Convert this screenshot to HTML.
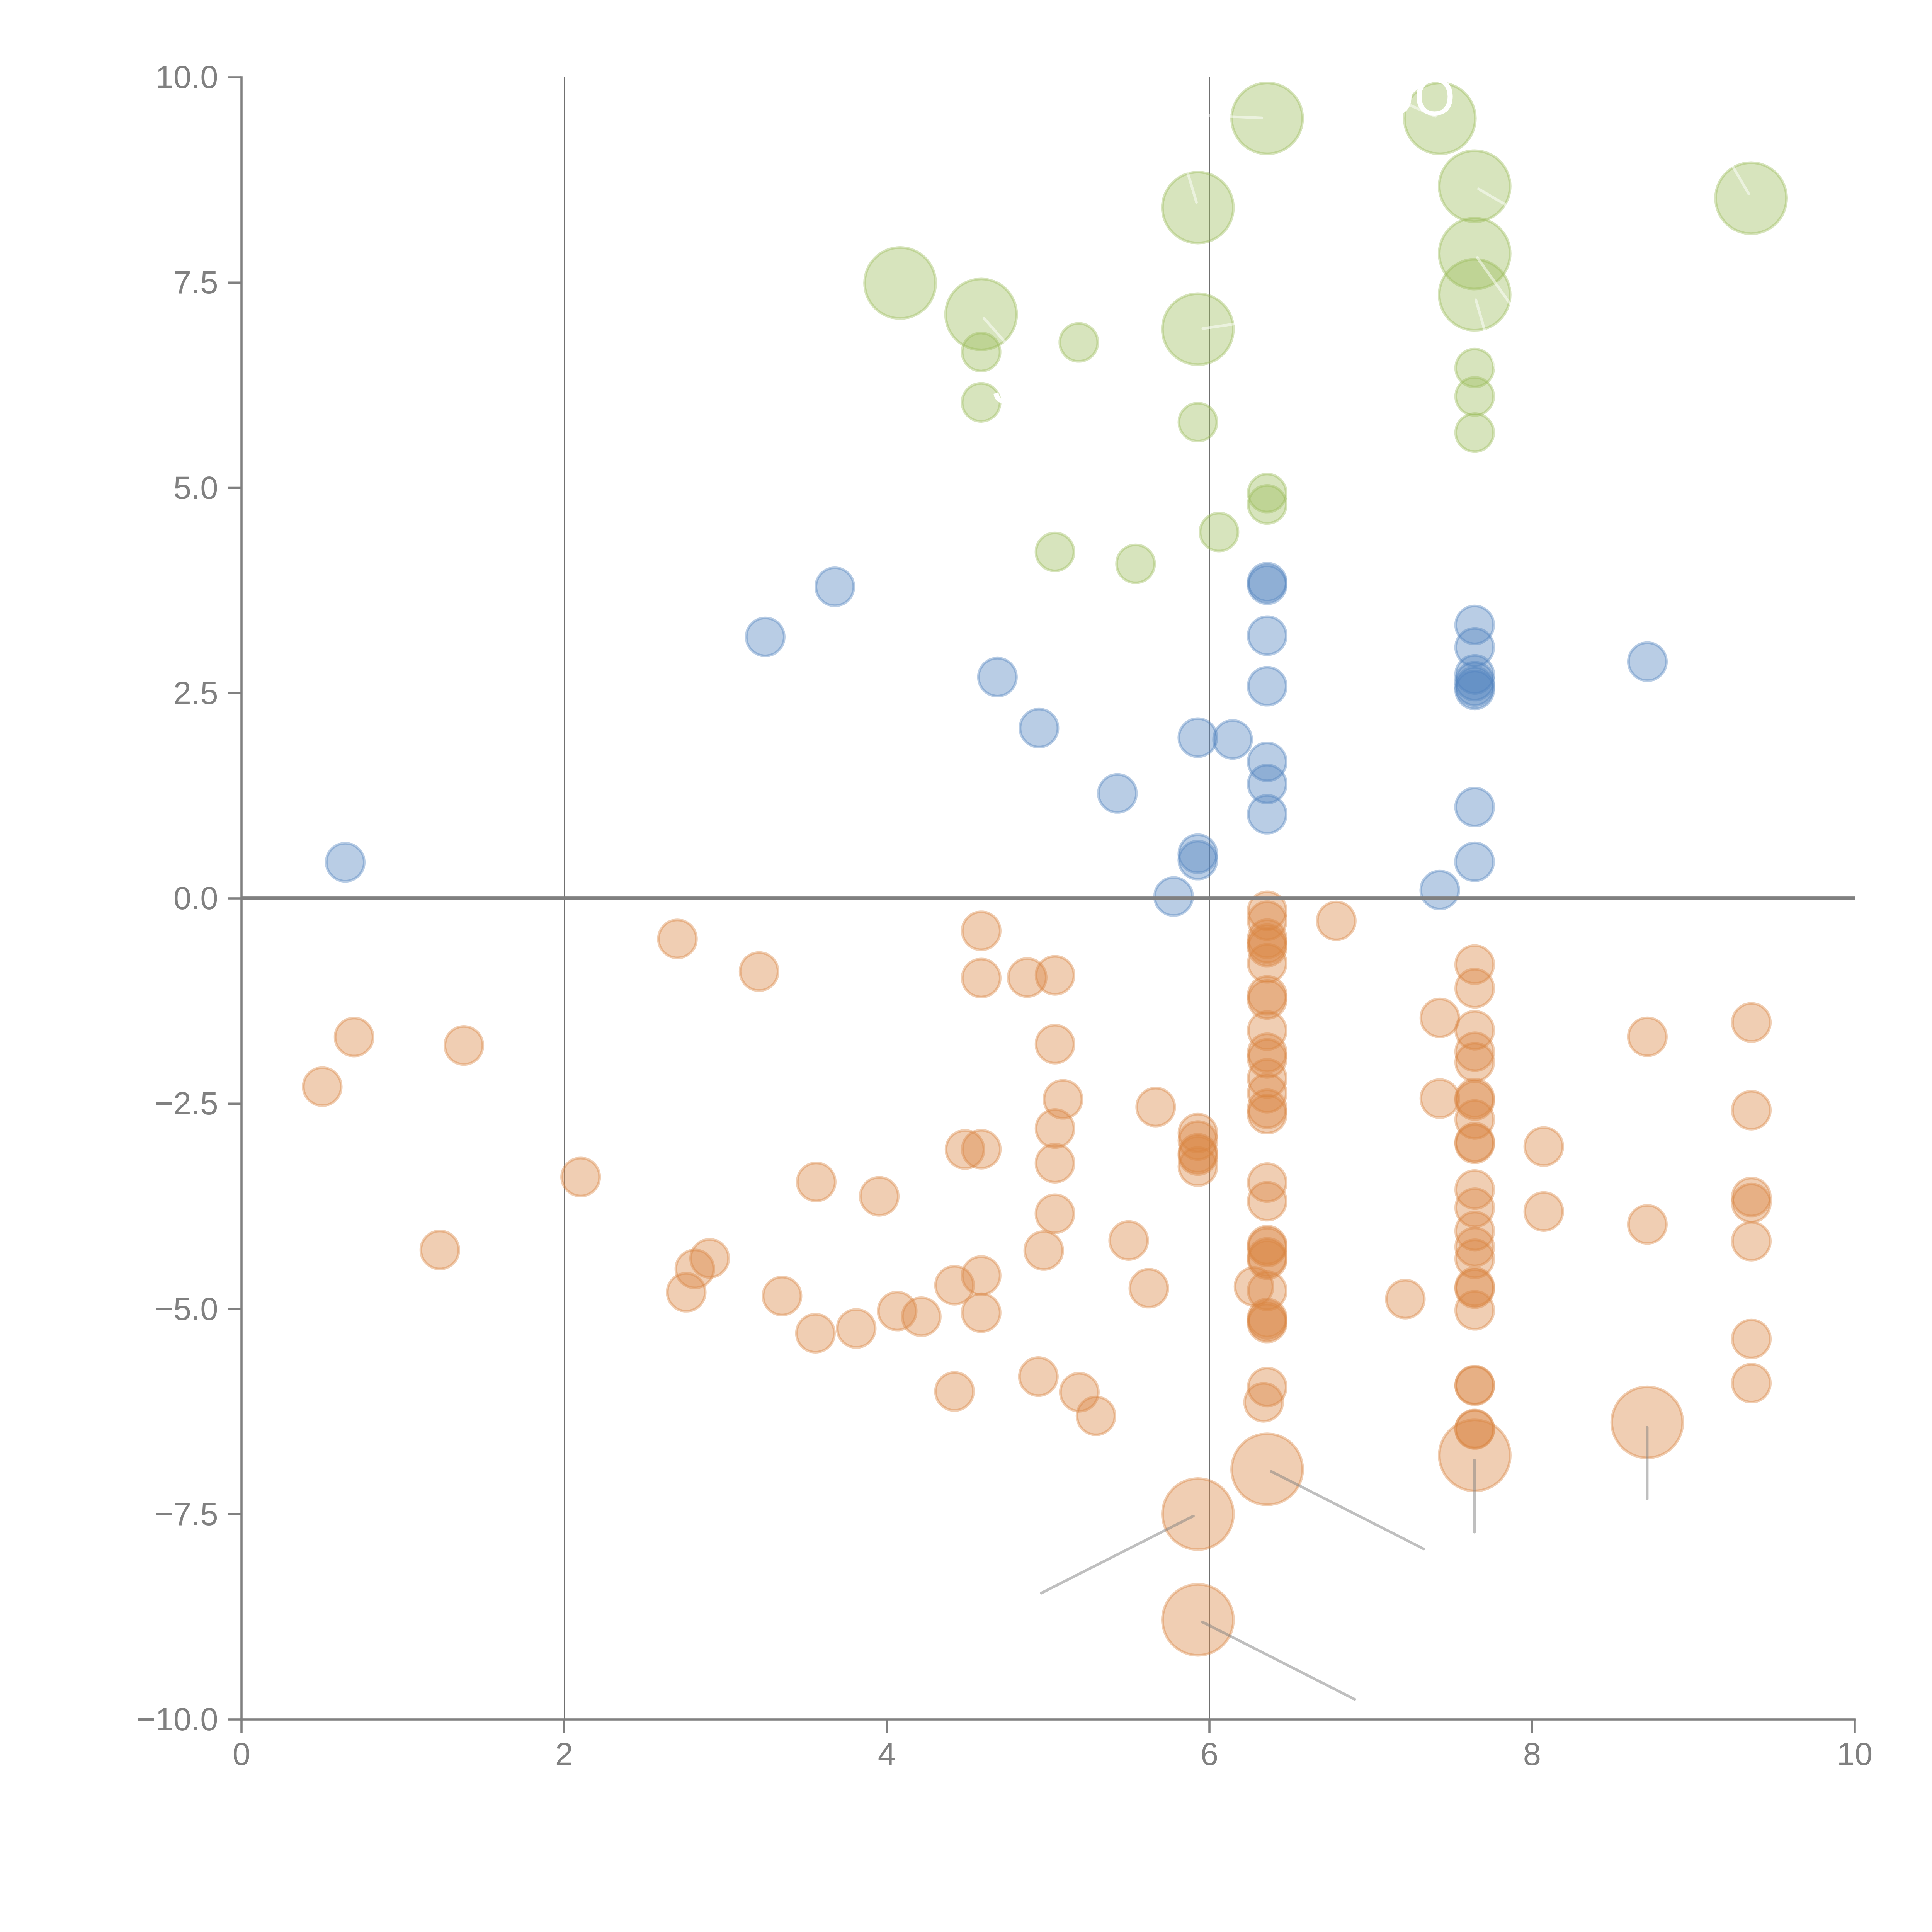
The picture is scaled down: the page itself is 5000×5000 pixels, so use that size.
<!DOCTYPE html>
<html lang="en"><head><meta charset="utf-8"><title>Scatter chart</title>
<style>html,body{margin:0;padding:0;background:#fff}svg{display:block}text{font-family:"Liberation Sans",sans-serif}.tk{font-size:83.33px;fill:#808080}.g circle{fill:#9BBB59;stroke:#9BBB59}.b circle{fill:#4F81BD;stroke:#4F81BD}.o circle{fill:#D98540;stroke:#D98540}circle{fill-opacity:0.4;stroke-opacity:0.4;stroke-width:6.944}.wl line{stroke:#fff;stroke-opacity:.5;stroke-width:6.944;stroke-linecap:round}.gl line{stroke:#808080;stroke-opacity:.5;stroke-width:6.944;stroke-linecap:round}.wt{fill:#fff}</style></head><body>
<svg width="5000" height="5000" viewBox="0 0 5000 5000">
<rect width="5000" height="5000" fill="#fff"/>
<rect x="1460" y="200" width="1" height="4250" fill="#707070"/>
<rect x="2295" y="200" width="1" height="4250" fill="#707070"/>
<rect x="3130" y="200" width="1" height="4250" fill="#707070"/>
<rect x="3965" y="200" width="1" height="4250" fill="#707070"/>
<g class="o"><circle cx="916.3" cy="2683.9" r="49.1"/><circle cx="1200.5" cy="2705.5" r="49.1"/><circle cx="834" cy="2812.2" r="49.1"/><circle cx="1502.7" cy="3046.1" r="49.1"/><circle cx="1138.3" cy="3234.9" r="49.1"/><circle cx="1753.2" cy="2429.9" r="49.1"/><circle cx="1964.4" cy="2514.3" r="49.1"/><circle cx="2539.4" cy="2408.9" r="49.1"/><circle cx="2539.4" cy="2531.1" r="49.1"/><circle cx="2658.4" cy="2529.8" r="49.1"/><circle cx="2730.3" cy="2524.1" r="49.1"/><circle cx="2730.3" cy="2702.2" r="49.1"/><circle cx="2751" cy="2845" r="49.1"/><circle cx="2730.3" cy="2920.6" r="49.1"/><circle cx="2730.2" cy="3010.4" r="49.1"/><circle cx="2730.1" cy="3141" r="49.1"/><circle cx="2701.2" cy="3236.3" r="49.1"/><circle cx="2990.9" cy="2865.1" r="49.1"/><circle cx="2497.4" cy="2974.8" r="49.1"/><circle cx="2539.6" cy="2974.2" r="49.1"/><circle cx="2112.4" cy="3058.8" r="49.1"/><circle cx="2275.5" cy="3096.1" r="49.1"/><circle cx="1836.5" cy="3256.6" r="49.1"/><circle cx="1798.2" cy="3283.9" r="49.1"/><circle cx="1776" cy="3344.3" r="49.1"/><circle cx="2023.9" cy="3354.1" r="49.1"/><circle cx="2110.4" cy="3450.4" r="49.1"/><circle cx="2215.9" cy="3438" r="49.1"/><circle cx="2322" cy="3393" r="49.1"/><circle cx="2384.3" cy="3407.5" r="49.1"/><circle cx="2470.3" cy="3326.2" r="49.1"/><circle cx="2539.3" cy="3301.1" r="49.1"/><circle cx="2539.3" cy="3397.2" r="49.1"/><circle cx="2470.2" cy="3601" r="49.1"/><circle cx="2687.3" cy="3562.6" r="49.1"/><circle cx="2793.4" cy="3603.1" r="49.1"/><circle cx="2836.3" cy="3664.2" r="49.1"/><circle cx="2921" cy="3210.4" r="49.1"/><circle cx="2973.1" cy="3333.8" r="49.1"/><circle cx="3245.3" cy="3329.5" r="49.1"/><circle cx="3458.3" cy="2383.2" r="49.1"/><circle cx="3637" cy="3362.1" r="49.1"/><circle cx="3270.3" cy="3629.1" r="49.1"/><circle cx="3100.1" cy="2932.3" r="49.1"/><circle cx="3100.1" cy="2951.7" r="49.1"/><circle cx="3100.1" cy="2984.8" r="49.1"/><circle cx="3100.1" cy="2990.5" r="49.1"/><circle cx="3100.1" cy="3019" r="49.1"/><circle cx="3279.5" cy="2357" r="49.1"/><circle cx="3279.5" cy="2382.9" r="49.1"/><circle cx="3279.5" cy="2429.3" r="49.1"/><circle cx="3279.5" cy="2442.3" r="49.1"/><circle cx="3279.5" cy="2451" r="49.1"/><circle cx="3279.5" cy="2493" r="49.1"/><circle cx="3279.5" cy="2576" r="49.1"/><circle cx="3279.5" cy="2586.6" r="49.1"/><circle cx="3279.5" cy="2667" r="49.1"/><circle cx="3279.5" cy="2724.6" r="49.1"/><circle cx="3279.5" cy="2739.1" r="49.1"/><circle cx="3279.5" cy="2790.8" r="49.1"/><circle cx="3279.5" cy="2829.1" r="49.1"/><circle cx="3279.5" cy="2869.5" r="49.1"/><circle cx="3279.5" cy="2883.5" r="49.1"/><circle cx="3279.5" cy="3060.5" r="49.1"/><circle cx="3279.5" cy="3108.8" r="49.1"/><circle cx="3279.5" cy="3222.2" r="49.1"/><circle cx="3279.5" cy="3227.3" r="49.1"/><circle cx="3279.5" cy="3254" r="49.1"/><circle cx="3279.5" cy="3260" r="49.1"/><circle cx="3279.5" cy="3340.5" r="49.1"/><circle cx="3279.5" cy="3411" r="49.1"/><circle cx="3279.5" cy="3418" r="49.1"/><circle cx="3279.5" cy="3424" r="49.1"/><circle cx="3279.5" cy="3589.7" r="49.1"/><circle cx="3816.5" cy="2496.2" r="49.1"/><circle cx="3816.5" cy="2557.5" r="49.1"/><circle cx="3816.5" cy="2666.2" r="49.1"/><circle cx="3816.5" cy="2721.9" r="49.1"/><circle cx="3816.5" cy="2748.8" r="49.1"/><circle cx="3816.5" cy="2842" r="49.1"/><circle cx="3816.5" cy="2848.2" r="49.1"/><circle cx="3816.5" cy="2897.2" r="49.1"/><circle cx="3816.5" cy="2956.1" r="49.1"/><circle cx="3816.5" cy="2960" r="49.1"/><circle cx="3816.5" cy="3078.5" r="49.1"/><circle cx="3816.5" cy="3125.6" r="49.1"/><circle cx="3816.5" cy="3185.9" r="49.1"/><circle cx="3816.5" cy="3227" r="49.1"/><circle cx="3816.5" cy="3257.6" r="49.1"/><circle cx="3816.5" cy="3330.5" r="49.1"/><circle cx="3816.5" cy="3334.9" r="49.1"/><circle cx="3816.5" cy="3391" r="49.1"/><circle cx="3816.5" cy="3584.6" r="49.1"/><circle cx="3816.5" cy="3586" r="49.1"/><circle cx="3816.5" cy="3698" r="49.1"/><circle cx="3816.5" cy="3699.5" r="49.1"/><circle cx="3726.3" cy="2634.4" r="49.1"/><circle cx="3726.3" cy="2843" r="49.1"/><circle cx="3995.2" cy="2967.2" r="49.1"/><circle cx="3995.2" cy="3135.4" r="49.1"/><circle cx="4263.4" cy="2683.2" r="49.1"/><circle cx="4263.4" cy="3168.7" r="49.1"/><circle cx="4532.5" cy="2646" r="49.1"/><circle cx="4532.5" cy="2873.2" r="49.1"/><circle cx="4532.5" cy="3097.8" r="49.1"/><circle cx="4532.5" cy="3113.4" r="49.1"/><circle cx="4532.5" cy="3212.2" r="49.1"/><circle cx="4532.5" cy="3465.2" r="49.1"/><circle cx="4532.5" cy="3579.5" r="49.1"/><circle cx="3279.4" cy="3802.5" r="91.85"/><circle cx="3100.3" cy="3918.3" r="91.85"/><circle cx="3100.3" cy="4192.1" r="91.85"/><circle cx="3816.6" cy="3766.5" r="91.85"/><circle cx="4263" cy="3681" r="91.85"/></g>
<g class="b"><circle cx="893.5" cy="2231.5" r="49.1"/><circle cx="2160.6" cy="1518.5" r="49.1"/><circle cx="1980.4" cy="1648.3" r="49.1"/><circle cx="2581.4" cy="1752.3" r="49.1"/><circle cx="3279.5" cy="1506.6" r="49.1"/><circle cx="3279.5" cy="1513.2" r="49.1"/><circle cx="3279.5" cy="1645" r="49.1"/><circle cx="3279.5" cy="1776" r="49.1"/><circle cx="2688.9" cy="1884.2" r="49.1"/><circle cx="3099.9" cy="1909" r="49.1"/><circle cx="3190" cy="1913.7" r="49.1"/><circle cx="3279.5" cy="1971.6" r="49.1"/><circle cx="3279.5" cy="2029.1" r="49.1"/><circle cx="3279.5" cy="2107.3" r="49.1"/><circle cx="2891.8" cy="2053.3" r="49.1"/><circle cx="3816.4" cy="1617.3" r="49.1"/><circle cx="3816.4" cy="1675.3" r="49.1"/><circle cx="3816.4" cy="1745.4" r="49.1"/><circle cx="3816.4" cy="1762.8" r="49.1"/><circle cx="3816.4" cy="1776.5" r="49.1"/><circle cx="3816.4" cy="1785.6" r="49.1"/><circle cx="4263.5" cy="1712.3" r="49.1"/><circle cx="3816.3" cy="2088.5" r="49.1"/><circle cx="3816.1" cy="2230.4" r="49.1"/><circle cx="3726.1" cy="2303.4" r="49.1"/><circle cx="3099.9" cy="2209.4" r="49.1"/><circle cx="3099.9" cy="2226" r="49.1"/><circle cx="3037.3" cy="2320.2" r="49.1"/></g>
<g class="g"><circle cx="2539.1" cy="911" r="49.1"/><circle cx="2539.1" cy="1041.4" r="49.1"/><circle cx="2791.9" cy="886" r="49.1"/><circle cx="2730.2" cy="1428.3" r="49.1"/><circle cx="3100.1" cy="1092.5" r="49.1"/><circle cx="3816.4" cy="952.3" r="49.1"/><circle cx="3816.4" cy="1025.8" r="49.1"/><circle cx="3816.4" cy="1119.6" r="49.1"/><circle cx="3279.5" cy="1276" r="49.1"/><circle cx="3279.5" cy="1305.5" r="49.1"/><circle cx="3154.8" cy="1376.9" r="49.1"/><circle cx="2938.9" cy="1459.2" r="49.1"/><circle cx="2329.5" cy="732.4" r="91.85"/><circle cx="2539.1" cy="813.7" r="91.85"/><circle cx="3279.3" cy="306.3" r="91.85"/><circle cx="3100.1" cy="537.2" r="91.85"/><circle cx="3100.1" cy="851.9" r="91.85"/><circle cx="3726.3" cy="306.3" r="91.85"/><circle cx="3816.4" cy="481.8" r="91.85"/><circle cx="3816.4" cy="656.2" r="91.85"/><circle cx="3816.4" cy="762.8" r="91.85"/><circle cx="4531.7" cy="512.8" r="91.85"/></g>
<rect x="625" y="2320.14" width="4175" height="9.72" fill="#808080"/>
<g class="wl"><line x1="2546.9" y1="824" x2="2626" y2="914"/><line x1="3265.7" y1="305.3" x2="3050" y2="295.8"/><line x1="3096.5" y1="523.7" x2="3054" y2="380"/><line x1="3113" y1="850.3" x2="3261.5" y2="828.6"/><line x1="3714.4" y1="301.1" x2="3577" y2="240.5"/><line x1="3826.7" y1="489" x2="3999" y2="590"/><line x1="3823.1" y1="666.6" x2="3985.8" y2="894.5"/><line x1="3819.5" y1="775.8" x2="3870.7" y2="953.6"/><line x1="4525.5" y1="501.4" x2="4450" y2="371.8"/></g>
<g class="gl"><line x1="3290.3" y1="3808.1" x2="3684.4" y2="4008.5"/><line x1="3088.4" y1="3923.5" x2="2695" y2="4122.8"/><line x1="3112.2" y1="4197.8" x2="3506" y2="4397.8"/><line x1="3815.8" y1="3779.3" x2="3815.8" y2="3965.1"/><line x1="4262.9" y1="3693.4" x2="4262.9" y2="3879.2"/></g>
<g class="wt"><text x="3553" y="298" font-size="137">OO</text><text x="2569" y="1043" font-size="140">J</text></g>
<g fill="#808080">
<rect x="622.22" y="197.22" width="5.56" height="4255.56"/>
<rect x="622.22" y="4447.22" width="4180.56" height="5.56"/>
<rect x="622.22" y="4450.00" width="5.56" height="34.72"/>
<rect x="1457.22" y="4450.00" width="5.56" height="34.72"/>
<rect x="2292.22" y="4450.00" width="5.56" height="34.72"/>
<rect x="3127.22" y="4450.00" width="5.56" height="34.72"/>
<rect x="3962.22" y="4450.00" width="5.56" height="34.72"/>
<rect x="4797.22" y="4450.00" width="5.56" height="34.72"/>
<rect x="590.28" y="197.22" width="34.72" height="5.56"/>
<rect x="590.28" y="728.47" width="34.72" height="5.56"/>
<rect x="590.28" y="1259.72" width="34.72" height="5.56"/>
<rect x="590.28" y="1790.97" width="34.72" height="5.56"/>
<rect x="590.28" y="2322.22" width="34.72" height="5.56"/>
<rect x="590.28" y="2853.47" width="34.72" height="5.56"/>
<rect x="590.28" y="3384.72" width="34.72" height="5.56"/>
<rect x="590.28" y="3915.97" width="34.72" height="5.56"/>
<rect x="590.28" y="4447.22" width="34.72" height="5.56"/>
</g>
<g class="tk">
<text x="625" y="4567.5" text-anchor="middle">0</text>
<text x="1460" y="4567.5" text-anchor="middle">2</text>
<text x="2295" y="4567.5" text-anchor="middle">4</text>
<text x="3130" y="4567.5" text-anchor="middle">6</text>
<text x="3965" y="4567.5" text-anchor="middle">8</text>
<text x="4800" y="4567.5" text-anchor="middle">10</text>
<text x="564.5" y="228" text-anchor="end">10.0</text>
<text x="564.5" y="759.2" text-anchor="end">7.5</text>
<text x="564.5" y="1290.5" text-anchor="end">5.0</text>
<text x="564.5" y="1821.8" text-anchor="end">2.5</text>
<text x="564.5" y="2353" text-anchor="end">0.0</text>
<text x="564.5" y="2884.2" text-anchor="end">−2.5</text>
<text x="564.5" y="3415.5" text-anchor="end">−5.0</text>
<text x="564.5" y="3946.8" text-anchor="end">−7.5</text>
<text x="564.5" y="4478" text-anchor="end">−10.0</text>
</g>
</svg></body></html>
